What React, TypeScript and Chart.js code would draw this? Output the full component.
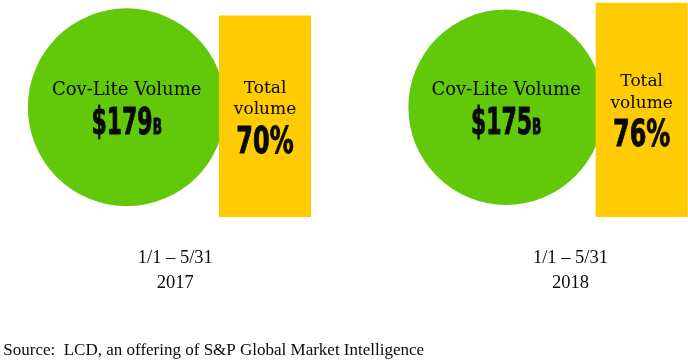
import React, { useEffect, useRef } from 'react';
import { Chart, registerables } from 'chart.js';

Chart.register(...registerables);

// ---- data ----
const periods = ['2017', '2018'];
const dateRanges = ['1/1 – 5/31', '1/1 – 5/31'];
const covLiteVolume = [179, 175]; // $ billions
const totalVolumeShare = [70, 76]; // % of total volume
const circleLabel = 'Cov-Lite Volume';
const boxLabel = ['Total', 'volume'];
const sourceNote = 'Source:  LCD, an offering of S&P Global Market Intelligence';

// ---- styles ----
const GREEN = '#62c90a';
const YELLOW = '#ffcb03';
const INK = '#0a0a0a';
const SERIF_WIDE = '"DejaVu Serif", serif';
const SERIF = '"Liberation Serif", "Times New Roman", serif';
const DISPLAY = '"DejaVu Sans Condensed", "DejaVu Sans", sans-serif';
const RADIUS_PER_SQRT = 7.39;

type Part = { text: string; size: number };

function drawDisplay(ctx: CanvasRenderingContext2D, parts: Part[], cx: number, baseline: number, squeeze: number) {
  ctx.save();
  ctx.textAlign = 'left';
  ctx.textBaseline = 'alphabetic';
  const widths = parts.map((p) => {
    ctx.font = `bold ${p.size}px ${DISPLAY}`;
    return ctx.measureText(p.text).width;
  });
  const total = widths.reduce((a, b) => a + b, 0) * squeeze;
  ctx.translate(cx - total / 2, baseline);
  ctx.scale(squeeze, 1);
  ctx.strokeStyle = INK;
  ctx.lineWidth = 0.9;
  ctx.lineJoin = 'round';
  let off = 0;
  parts.forEach((p, i) => {
    ctx.font = `bold ${p.size}px ${DISPLAY}`;
    ctx.fillText(p.text, off, 0);
    ctx.strokeText(p.text, off, 0);
    off += widths[i];
  });
  ctx.restore();
}

const textPlugin = {
  id: 'infographicText',
  afterDatasetsDraw(chart: any) {
    const ctx: CanvasRenderingContext2D = chart.ctx;
    ctx.save();
    ctx.fillStyle = INK;
    ctx.textBaseline = 'alphabetic';

    // circle texts
    chart.getDatasetMeta(0).data.forEach((el: any, i: number) => {
      const { x, y } = el.getProps(['x', 'y'], true);
      ctx.font = `18px ${SERIF_WIDE}`;
      ctx.textAlign = 'center';
      ctx.fillText(circleLabel, x, y - 12.5);
      drawDisplay(ctx, [{ text: `$${covLiteVolume[i]}`, size: 37 }, { text: 'B', size: 20.5 }], x, y + 26.5, 0.66);
    });

    // box texts
    chart.getDatasetMeta(1).data.forEach((el: any, i: number) => {
      const { x, y, base } = el.getProps(['x', 'y', 'base'], true);
      const cy = (y + base) / 2;
      ctx.font = `17px ${SERIF_WIDE}`;
      ctx.textAlign = 'center';
      ctx.fillText(boxLabel[0], x, cy - 23.7);
      ctx.fillText(boxLabel[1], x, cy - 2.2);
      drawDisplay(ctx, [{ text: `${totalVolumeShare[i]}%`, size: 38 }], x, cy + 36.5, 0.7);
    });

    // period labels
    const xl = chart.scales.xl;
    ctx.font = `18.5px ${SERIF}`;
    ctx.textAlign = 'center';
    periods.forEach((p, i) => {
      const x = xl.getPixelForValue(i);
      ctx.fillText(dateRanges[i], x, 263.3);
      ctx.fillText(p, x, 287.7);
    });

    // source
    ctx.font = `17px ${SERIF}`;
    ctx.textAlign = 'left';
    ctx.fillText(sourceNote, 3.3, 354.7);
    ctx.restore();
  },
};

export default function App() {
  const ref = useRef<HTMLCanvasElement | null>(null);

  useEffect(() => {
    document.body.style.margin = '0';
    document.body.style.overflow = 'hidden';
    const canvas = ref.current!;
    const hidden = { display: false, offset: false, bounds: 'data' as const, ticks: { stepSize: 1, includeBounds: false } };
    const chart = new Chart(canvas, {
      type: 'bar',
      data: {
        datasets: [
          {
            type: 'bubble',
            label: 'Cov-Lite volume ($B)',
            data: covLiteVolume.map((_, i) => ({ x: i, y: 0 })),
            xAxisID: 'xc',
            yAxisID: 'yc',
            backgroundColor: GREEN,
            borderWidth: 0,
            radius: (c: any) => RADIUS_PER_SQRT * Math.sqrt(covLiteVolume[c.dataIndex]),
            hoverRadius: 0,
            clip: false,
            order: 2,
          } as any,
          {
            type: 'bar',
            label: 'Share of total volume (%)',
            data: totalVolumeShare.map((v, i) => ({ x: i, y: v })),
            xAxisID: 'xb',
            yAxisID: 'yb',
            backgroundColor: YELLOW,
            borderWidth: 0,
            grouped: false,
            barThickness: 91.4,
            maxBarThickness: 91.4,
            base: -25,
            clip: false,
            order: 1,
          } as any,
        ],
      },
      options: {
        responsive: false,
        animation: false,
        events: [],
        layout: { padding: 0, autoPadding: false },
        plugins: { legend: { display: false }, tooltip: { enabled: false } },
        scales: {
          xc: { type: 'linear', min: -0.33395, max: 1.47944, ...hidden },
          xb: { type: 'linear', min: -0.70348, max: 1.12291, ...hidden },
          xl: { type: 'linear', min: -0.44357, max: 1.29732, ...hidden },
          yc: { type: 'linear', min: -2.357, max: 1, ...hidden },
          yb: { type: 'linear', min: -92.66, max: 77.42, ...hidden },
        },
      } as any,
      plugins: [textPlugin],
    });
    return () => chart.destroy();
  }, []);

  return (
    <div style={{ width: 688, height: 360, background: '#fff' }}>
      <canvas ref={ref} width={688} height={360} style={{ display: 'block' }} />
    </div>
  );
}
